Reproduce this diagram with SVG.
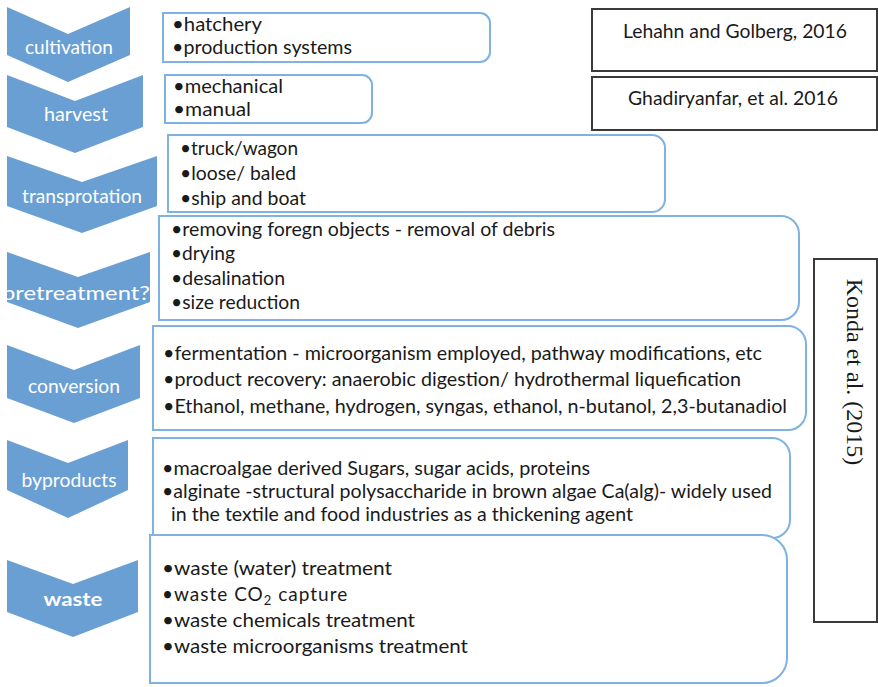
<svg xmlns="http://www.w3.org/2000/svg" width="878" height="687" viewBox="0 0 878 687">
<style>
.chev{fill:#6a9fd4;}
.lbl{font-family:Lato,"Open Sans","Liberation Sans",sans-serif;font-size:19px;fill:#ffffff;text-anchor:middle;}
.box{fill:#ffffff;stroke:#7db2e2;stroke-width:2;}
.t{font-family:Lato,"Open Sans","Liberation Sans",sans-serif;font-size:19px;fill:#1a1a1a;}
.ref{fill:#ffffff;stroke:#3a3a3a;stroke-width:2;}
.rt{font-family:Lato,"Open Sans","Liberation Sans",sans-serif;font-size:19px;fill:#1a1a1a;text-anchor:middle;}
.kt{font-family:"Liberation Serif","Times New Roman",serif;font-size:24px;fill:#1a1a1a;text-anchor:middle;}
</style>
<rect width="878" height="687" fill="#ffffff"/>
<g id="connectors"></g>
<g id="cultivation">
<polygon class="chev" points="7,7 68,34 130,7 130,55 68,82 7,55"/>
<text class="lbl" x="69" y="54" textLength="88" lengthAdjust="spacingAndGlyphs">cultivation</text>
<path class="box" d="M163,13 H480 A10,10 0 0 1 490,23 V52 A10,10 0 0 1 480,62 H163 Z"/>
<text class="t" x="172" y="31" textLength="90" lengthAdjust="spacingAndGlyphs">•hatchery</text>
<text class="t" x="172" y="54" textLength="180" lengthAdjust="spacingAndGlyphs">•production systems</text>
</g>
<g id="harvest">
<polygon class="chev" points="7,75 75,101 143,75 143,127 75,153 7,127"/>
<text class="lbl" x="76" y="121" textLength="64" lengthAdjust="spacingAndGlyphs">harvest</text>
<path class="box" d="M165,75 H362 A10,10 0 0 1 372,85 V113 A10,10 0 0 1 362,123 H165 Z"/>
<text class="t" x="173" y="93" textLength="110" lengthAdjust="spacingAndGlyphs">•mechanical</text>
<text class="t" x="173" y="116" textLength="78" lengthAdjust="spacingAndGlyphs">•manual</text>
</g>
<g id="transportation">
<polygon class="chev" points="7,156 82,182 157,156 157,206 82,233 7,206"/>
<text class="lbl" x="82" y="203" textLength="120" lengthAdjust="spacingAndGlyphs">transprotation</text>
<path class="box" d="M168,135 H652 A13,13 0 0 1 665,148 V199 A13,13 0 0 1 652,212 H168 Z"/>
<text class="t" x="180" y="155" textLength="118" lengthAdjust="spacingAndGlyphs">•truck/wagon</text>
<text class="t" x="180" y="180" textLength="116" lengthAdjust="spacingAndGlyphs">•loose/ baled</text>
<text class="t" x="180" y="205" textLength="126" lengthAdjust="spacingAndGlyphs">•ship and boat</text>
</g>
<g id="pretreatment">
<polygon class="chev" points="7,252 78,277 150,252 150,302 78,328 7,302"/>
<text class="lbl" x="76" y="300" textLength="148" lengthAdjust="spacingAndGlyphs">pretreatment?</text>
<path class="box" d="M159,216 H781 A18,18 0 0 1 799,234 V302 A18,18 0 0 1 781,320 H159 Z"/>
<text class="t" x="171" y="236" textLength="384" lengthAdjust="spacingAndGlyphs">•removing foregn objects - removal of debris</text>
<text class="t" x="171" y="260" textLength="64" lengthAdjust="spacingAndGlyphs">•drying</text>
<text class="t" x="171" y="285" textLength="114" lengthAdjust="spacingAndGlyphs">•desalination</text>
<text class="t" x="171" y="309" textLength="129" lengthAdjust="spacingAndGlyphs">•size reduction</text>
</g>
<g id="conversion">
<polygon class="chev" points="7,345 74,370 140,345 140,398 74,423 7,398"/>
<text class="lbl" x="74" y="393" textLength="92" lengthAdjust="spacingAndGlyphs">conversion</text>
<path class="box" d="M153,326 H788 A18,18 0 0 1 806,344 V412 A18,18 0 0 1 788,430 H153 Z"/>
<text class="t" x="163" y="360" textLength="599" lengthAdjust="spacingAndGlyphs">•fermentation - microorganism employed, pathway modifications, etc</text>
<text class="t" x="163" y="386" textLength="578" lengthAdjust="spacingAndGlyphs">•product recovery: anaerobic digestion/ hydrothermal liquefication</text>
<text class="t" x="163" y="413" textLength="624" lengthAdjust="spacingAndGlyphs">•Ethanol, methane, hydrogen, syngas, ethanol, n-butanol, 2,3-butanadiol</text>
</g>
<g id="byproducts">
<polygon class="chev" points="7,440 68,463 128,440 128,490 68,518 7,490"/>
<text class="lbl" x="69" y="487" textLength="95" lengthAdjust="spacingAndGlyphs">byproducts</text>
<path class="box" d="M153,438 H772 A18,18 0 0 1 790,456 V520 A18,18 0 0 1 772,538 H153 Z"/>
<text class="t" x="162" y="475" textLength="428" lengthAdjust="spacingAndGlyphs">•macroalgae derived Sugars, sugar acids, proteins</text>
<text class="t" x="162" y="498" textLength="610" lengthAdjust="spacingAndGlyphs">•alginate -structural polysaccharide in brown algae Ca(alg)- widely used</text>
<text class="t" x="171" y="521" textLength="462" lengthAdjust="spacingAndGlyphs">in the textile and food industries as a thickening agent</text>
</g>
<g id="waste">
<polygon class="chev" points="7,560 73,584 138,560 138,612 73,637 7,612"/>
<text class="lbl" x="73" y="606" font-weight="bold" textLength="59" lengthAdjust="spacingAndGlyphs">waste</text>
<path class="box" d="M150,535 H762 A25,25 0 0 1 787,560 V658 A25,25 0 0 1 762,683 H150 Z"/>
<text class="t" x="162" y="575" textLength="230" lengthAdjust="spacingAndGlyphs">•waste (water) treatment</text>
<text class="t" x="162" y="601" letter-spacing="1">•waste CO<tspan font-size="13" dy="4">2</tspan><tspan dy="-4"> capture</tspan></text>
<text class="t" x="162" y="627" textLength="253" lengthAdjust="spacingAndGlyphs">•waste chemicals treatment</text>
<text class="t" x="162" y="653" textLength="306" lengthAdjust="spacingAndGlyphs">•waste microorganisms treatment</text>
</g>
<g id="ref-lehahn">
<rect class="ref" x="592" y="9" width="285" height="62"/>
<text class="rt" x="735" y="38" textLength="224" lengthAdjust="spacingAndGlyphs">Lehahn and Golberg, 2016</text>
</g>
<g id="ref-ghadiryanfar">
<rect class="ref" x="592" y="77" width="285" height="53"/>
<text class="rt" x="733" y="105" textLength="210" lengthAdjust="spacingAndGlyphs">Ghadiryanfar, et al. 2016</text>
</g>
<g id="ref-konda">
<rect class="ref" x="814" y="259" width="63" height="363"/>
<text class="kt" transform="translate(847,372) rotate(90)">Konda et al. (2015)</text>
</g>
</svg>
